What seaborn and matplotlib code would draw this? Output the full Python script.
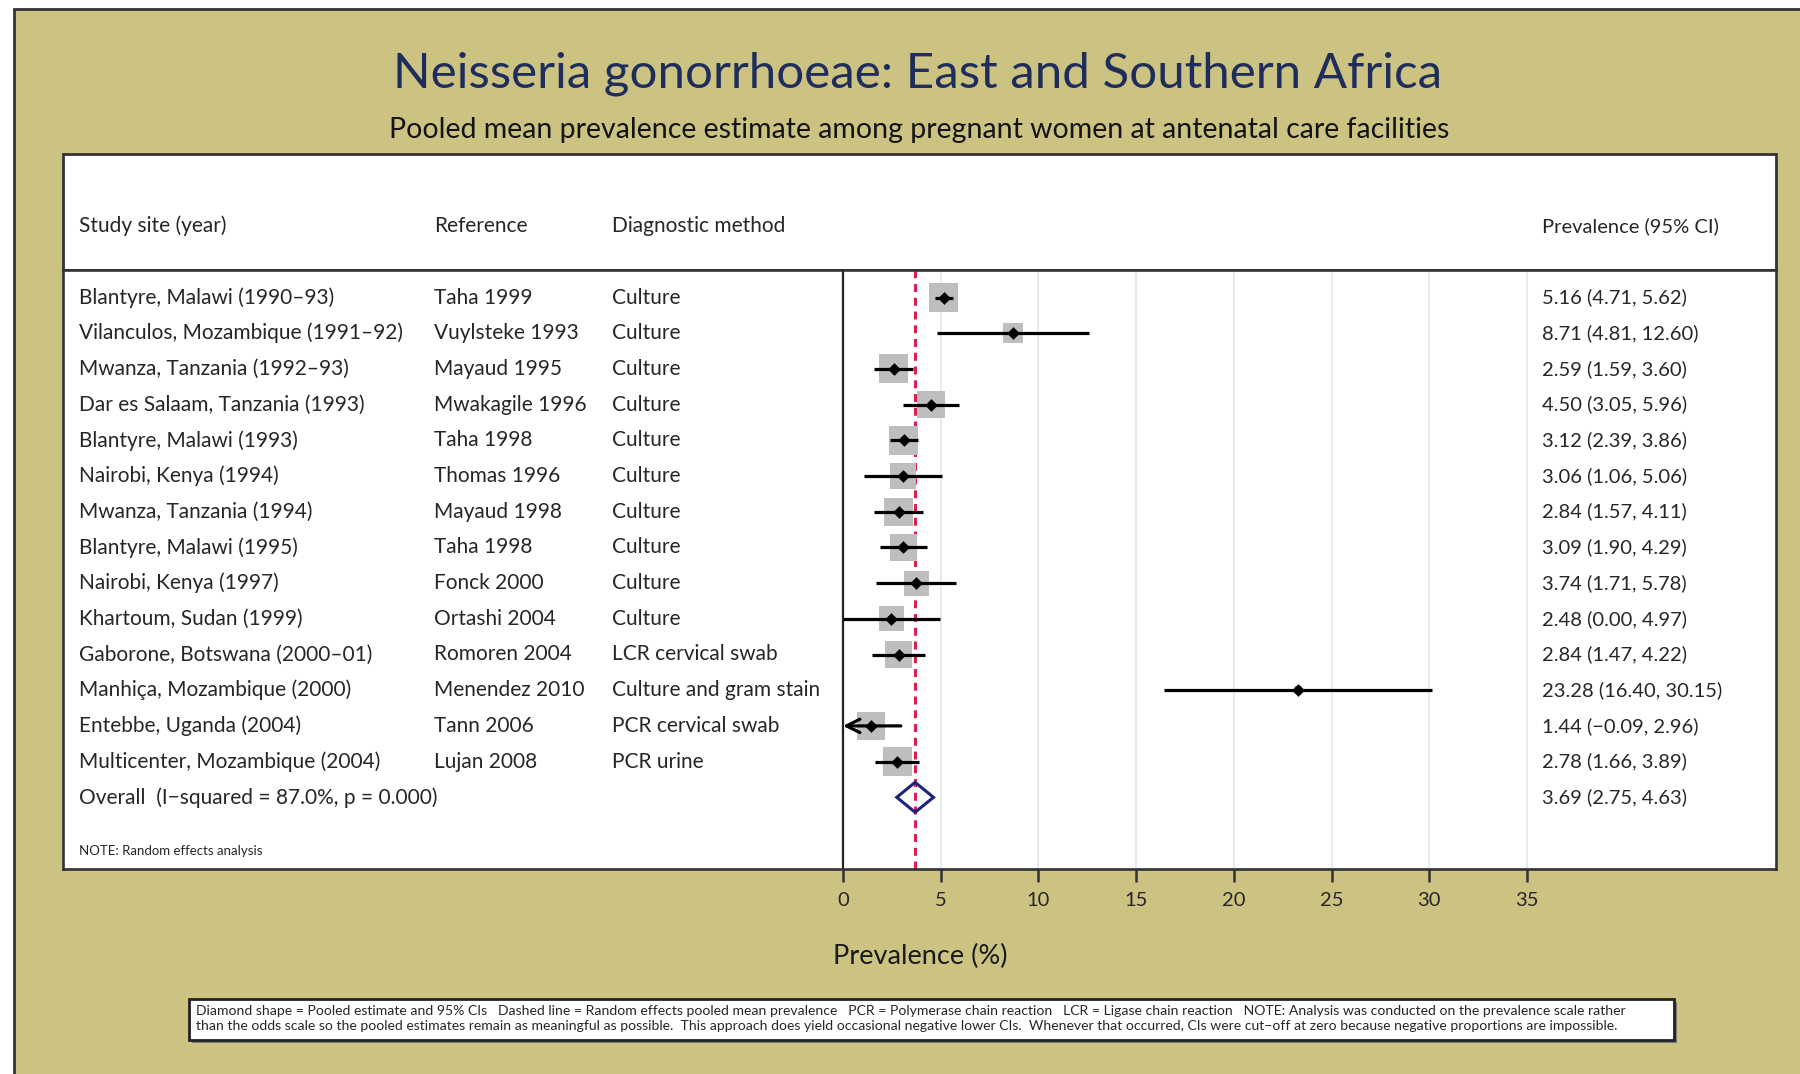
import numpy as np
import pandas as pd
import matplotlib
matplotlib.use("Agg")
import matplotlib.pyplot as plt
import matplotlib.transforms as mtransforms
from matplotlib.patches import Rectangle, Polygon
import seaborn as sns

# ---------------------------------------------------------------- data
sites = [
    "Blantyre, Malawi (1990–93)",
    "Vilanculos, Mozambique (1991–92)",
    "Mwanza, Tanzania (1992–93)",
    "Dar es Salaam, Tanzania (1993)",
    "Blantyre, Malawi (1993)",
    "Nairobi, Kenya (1994)",
    "Mwanza, Tanzania (1994)",
    "Blantyre, Malawi (1995)",
    "Nairobi, Kenya (1997)",
    "Khartoum, Sudan (1999)",
    "Gaborone, Botswana (2000–01)",
    "Manhiça, Mozambique (2000)",
    "Entebbe, Uganda (2004)",
    "Multicenter, Mozambique (2004)",
]
references = [
    "Taha 1999", "Vuylsteke 1993", "Mayaud 1995", "Mwakagile 1996",
    "Taha 1998", "Thomas 1996", "Mayaud 1998", "Taha 1998",
    "Fonck 2000", "Ortashi 2004", "Romoren 2004", "Menendez 2010",
    "Tann 2006", "Lujan 2008",
]
methods = [
    "Culture", "Culture", "Culture", "Culture", "Culture", "Culture",
    "Culture", "Culture", "Culture", "Culture", "LCR cervical swab",
    "Culture and gram stain", "PCR cervical swab", "PCR urine",
]
estimates = [5.16, 8.71, 2.59, 4.50, 3.12, 3.06, 2.84, 3.09, 3.74, 2.48, 2.84, 23.28, 1.44, 2.78]
lower = [4.71, 4.81, 1.59, 3.05, 2.39, 1.06, 1.57, 1.90, 1.71, 0.00, 1.47, 16.40, -0.09, 1.66]
upper = [5.62, 12.60, 3.60, 5.96, 3.86, 5.06, 4.11, 4.29, 5.78, 4.97, 4.22, 30.15, 2.96, 3.89]
# random-effects study weights (%)
weights = [8.9, 4.2, 8.8, 8.0, 8.9, 6.9, 8.4, 8.0, 6.7, 6.5, 7.4, 0.7, 7.9, 8.7]

pooled_est, pooled_lo, pooled_hi = 3.69, 2.75, 4.63
overall_label = "Overall  (I−squared = 87.0%, p = 0.000)"

x_ticks = [0, 5, 10, 15, 20, 25, 30, 35]

title = "Neisseria gonorrhoeae: East and Southern Africa"
subtitle = "Pooled mean prevalence estimate among pregnant women at antenatal care facilities"
headers = ["Study site (year)", "Reference", "Diagnostic method", "Prevalence (95% CI)"]
note_text = "NOTE: Random effects analysis"
x_label = "Prevalence (%)"
footnote_lines = [
    "Diamond shape = Pooled estimate and 95% CIs   Dashed line = Random effects pooled mean prevalence   "
    "PCR = Polymerase chain reaction   LCR = Ligase chain reaction   NOTE: Analysis was conducted on the prevalence scale rather",
    "than the odds scale so the pooled estimates remain as meaningful as possible.  This approach does yield occasional "
    "negative lower CIs.  Whenever that occurred, CIs were cut−off at zero because negative proportions are impossible.",
]

# ---------------------------------------------------------------- style
sns.set_style("white")
plt.rcParams["font.family"] = ["Lato", "DejaVu Sans"]

OLIVE = "#CCC383"
NAVY = "#1F2D5C"
FRAME = "#333333"
TEXT = "#262626"
DASH_RED = "#D92050"
SQUARE_GREY = "#BEBEBE"
GRID = "#DCEAEB"
DIAMOND_BLUE = "#1B247C"

W, H = 1800, 1074
fig = plt.figure(figsize=(W / 100, H / 100), dpi=100)
fig.patch.set_facecolor("white")


def fx(px):
    return px / W


def fy(py):
    return 1 - py / H


# olive backdrop with its frame
fig.add_artist(Rectangle((fx(14), -0.02), 1.05, fy(9) + 0.02, transform=fig.transFigure,
                         facecolor=OLIVE, edgecolor=FRAME, linewidth=2, zorder=-10))

# header band of the white panel
fig.add_artist(Rectangle((fx(63), fy(270)), fx(1776) - fx(63), fy(154) - fy(270),
                         transform=fig.transFigure, facecolor="white",
                         edgecolor=FRAME, linewidth=2, zorder=-5))

fig.text(fx(918), fy(74), title, ha="center", va="center", fontsize=35.5, color=NAVY)
fig.text(fx(919), fy(130), subtitle, ha="center", va="center", fontsize=20.5, color="#141414")

# ---------------------------------------------------------------- forest axes
ax = fig.add_axes([fx(63), fy(869), fx(1776) - fx(63), fy(270) - fy(869)])
ax.set_facecolor("white")

px_per_unit = (1527 - 843) / 35
ax.set_xlim(-(843 - 63) / px_per_unit, 35 + (1776 - 1527) / px_per_unit)
row_pitch = 35.7
first_row = 297.5
y_bottom = (869 - first_row) / row_pitch
y_top = (270 - first_row) / row_pitch
ax.set_ylim(y_bottom, y_top)

for side in ["top", "bottom", "left", "right"]:
    ax.spines[side].set_visible(True)
    ax.spines[side].set_color(FRAME)
    ax.spines[side].set_linewidth(1.9)

n = len(sites)
df = pd.DataFrame({
    "row": np.arange(n),
    "est": estimates,
    "lo": lower,
    "hi": upper,
    "w": weights,
})
max_side_px = 29.0
df["side_pt"] = max_side_px * np.sqrt(df["w"] / max(weights)) * 0.72
df["area"] = df["side_pt"] ** 2

# grid lines and zero line
ax.vlines(x_ticks[1:], y_top, y_bottom, color=GRID, linewidth=1.2, zorder=1)
ax.axvline(0, color="#222222", linewidth=1.6, zorder=2)

# pooled mean (dashed)
ax.axvline(pooled_est, color=DASH_RED, linewidth=2.2, linestyle=(0, (2.6, 1.9)), zorder=2)

# weight squares
sns.scatterplot(data=df, x="est", y="row", marker="s", s=df["area"].to_numpy(),
                color=SQUARE_GREY, linewidth=0, zorder=3, ax=ax, legend=False)

# confidence intervals, cut at zero with an arrow
for r in df.itertuples():
    if r.lo < 0:
        ax.annotate("", xy=(0, r.row), xytext=(r.hi, r.row),
                    arrowprops=dict(arrowstyle="->", color="black", lw=2.3,
                                    mutation_scale=24, shrinkA=0, shrinkB=0),
                    zorder=4)
    else:
        ax.hlines(r.row, r.lo, r.hi, color="black", linewidth=2.3, zorder=4)

# point estimates
sns.scatterplot(data=df, x="est", y="row", marker="D", s=42, color="black",
                linewidth=0, zorder=5, ax=ax, legend=False)

# pooled diamond
overall_row = n
half_h = 15 / row_pitch
ax.add_patch(Polygon([(pooled_lo, overall_row), (pooled_est, overall_row - half_h),
                      (pooled_hi, overall_row), (pooled_est, overall_row + half_h)],
                     closed=True, fill=False, edgecolor=DIAMOND_BLUE, linewidth=2.2, zorder=5))

ax.set_xlabel("")
ax.set_ylabel("")
ax.set_xticks(x_ticks)
ax.set_xticklabels([str(t) for t in x_ticks])
ax.set_yticks([])
ax.tick_params(axis="x", direction="out", length=9.5, width=1.8, color=FRAME,
               pad=7, labelsize=14.5, labelcolor=TEXT, bottom=True)
ax.tick_params(axis="y", left=False, labelleft=False)

# ---------------------------------------------------------------- table text
trans = mtransforms.blended_transform_factory(fig.transFigure, ax.transData)
col_x = [fx(79), fx(434), fx(612), fx(1542)]
row_fs = 15.0
num_fs = 14.5


def fmt(v):
    return f"{v:.2f}".replace("-", "−")


for i in range(n):
    ci_text = f"{fmt(estimates[i])} ({fmt(lower[i])}, {fmt(upper[i])})"
    for cx, txt, fs in zip(col_x, [sites[i], references[i], methods[i], ci_text],
                           [row_fs, row_fs, row_fs, num_fs]):
        ax.text(cx, i, txt, transform=trans, ha="left", va="center",
                fontsize=fs, color=TEXT, clip_on=False)

ax.text(col_x[0], overall_row, overall_label, transform=trans, ha="left", va="center",
        fontsize=row_fs, color=TEXT, clip_on=False)
ax.text(col_x[3], overall_row,
        f"{fmt(pooled_est)} ({fmt(pooled_lo)}, {fmt(pooled_hi)})",
        transform=trans, ha="left", va="center", fontsize=num_fs, color=TEXT, clip_on=False)
ax.text(col_x[0], (851 - first_row) / row_pitch, note_text, transform=trans,
        ha="left", va="center", fontsize=9.5, color=TEXT, clip_on=False)

for cx, h, fs in zip(col_x, headers, [row_fs, row_fs, row_fs, num_fs]):
    fig.text(cx, fy(226), h, ha="left", va="center", fontsize=fs, color=TEXT)

fig.text(fx(920), fy(956), x_label, ha="center", va="center", fontsize=19.5, color="#1a1a1a")

# ---------------------------------------------------------------- footnote box
fig.add_artist(Rectangle((fx(192), fy(1043)), fx(1677) - fx(192), fy(1002) - fy(1043),
                         transform=fig.transFigure, facecolor="#777777",
                         edgecolor="none", zorder=1))
fig.add_artist(Rectangle((fx(189), fy(1040)), fx(1674) - fx(189), fy(999) - fy(1040),
                         transform=fig.transFigure, facecolor="white",
                         edgecolor="#222222", linewidth=2, zorder=2))
for k, line in enumerate(footnote_lines):
    fig.text(fx(196), fy(1011 + 14.5 * k), line, ha="left", va="center",
             fontsize=10.1, color=TEXT, zorder=3)

fig.savefig("out.png", dpi=100, facecolor=fig.get_facecolor())
